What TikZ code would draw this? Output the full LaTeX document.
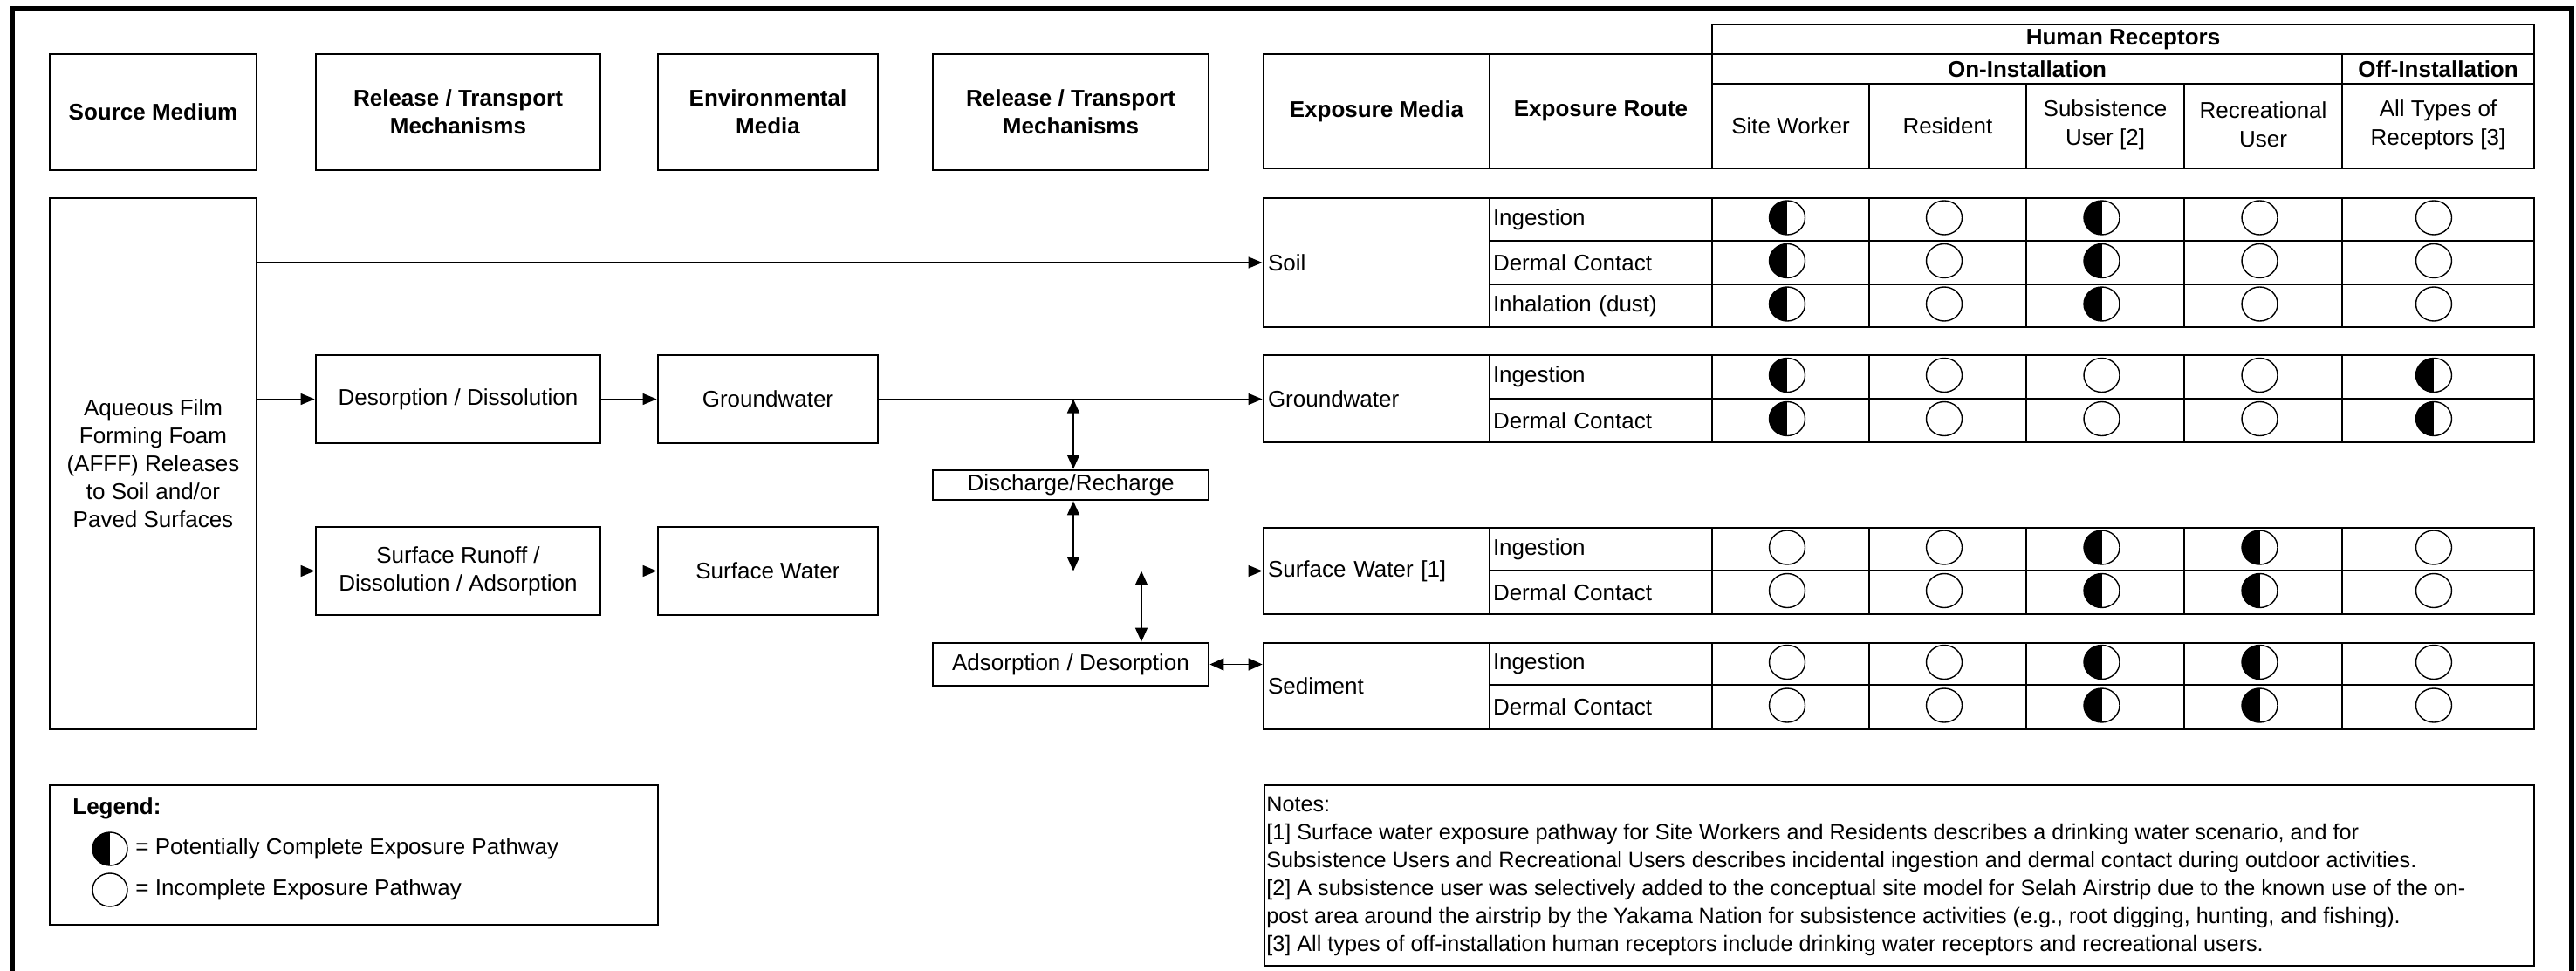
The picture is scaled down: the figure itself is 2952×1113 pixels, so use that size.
\documentclass[tikz,border=0pt]{standalone}
\usepackage{fontspec}
\setmainfont{Liberation Sans}
\usetikzlibrary{arrows.meta,shapes.geometric}
\newcommand\nbk[1]{[#1]}
\tikzset{
  frameline/.style={line width=3.3pt},
  bx/.style={draw, line width=1.4pt, align=center, inner sep=0pt},
  hd/.style={bx, font=\bfseries\fontsize{13}{16}\selectfont},
  gcell/.style={draw, line width=1.4pt, inner sep=0pt},
  colt/.style={align=center, inner sep=0pt, font=\fontsize{13}{16.5}\selectfont},
  mcell/.style={draw, line width=1.4pt, minimum width=129.5pt, inner xsep=2.5pt, text width=124.5pt, align=left},
  rcell/.style={draw, line width=1.4pt, minimum width=127.5pt, inner xsep=2pt, text width=123.5pt, align=left},
  symE/.style={ellipse, draw, line width=0.7pt, minimum width=20.5pt, minimum height=19.5pt, inner sep=0pt},
  symH/.style={symE, path picture={\fill (path picture bounding box.south west) rectangle (path picture bounding box.north);}},
  conn/.style={line width=0.75pt, -{Triangle[length=8pt,width=6.5pt]}},
  dconn/.style={line width=0.85pt, {Triangle[length=8pt,width=7pt]}-{Triangle[length=8pt,width=7pt]}},
}
\newcommand\drow[9]{%
  \node[rcell, minimum height=#3] (#1r) at (1834.5,#2) {#4};
  \node[gcell, minimum width=90pt, minimum height=#3] (#1c1) at (2052,#2) {};
  \node[gcell, minimum width=90pt, minimum height=#3] (#1c2) at (2232,#2) {};
  \node[gcell, minimum width=90.5pt, minimum height=#3] (#1c3) at (2412.5,#2) {};
  \node[gcell, minimum width=90.5pt, minimum height=#3] (#1c4) at (2593.5,#2) {};
  \node[gcell, minimum width=110pt, minimum height=#3] (#1c5) at (2794,#2) {};
  \node[#5] (#1s1) at ([xshift=-2pt,yshift=1pt]#1c1.center) {};
  \node[#6] (#1s2) at ([xshift=-2pt,yshift=1pt]#1c2.center) {};
  \node[#7] (#1s3) at ([xshift=-2pt,yshift=1pt]#1c3.center) {};
  \node[#8] (#1s4) at ([xshift=-2pt,yshift=1pt]#1c4.center) {};
  \node[#9] (#1s5) at ([xshift=-2.5pt,yshift=1pt]#1c5.center) {};
}
\begin{document}
\begin{tikzpicture}[x=0.5pt,y=-0.5pt,font=\fontsize{13}{16}\selectfont]
\useasboundingbox (0,0) rectangle (2952,1113);
\draw[frameline] (14,1130) -- (14,10) -- (2947,10) -- (2947,1130);

% header boxes
\node[hd, minimum width=118.5pt, minimum height=66.5pt] (hsrc) at (175.5,128.5) {Source Medium};
\node[hd, minimum width=163pt, minimum height=66.5pt] (hrt1) at (525,128.5) {Release / Transport\\Mechanisms};
\node[hd, minimum width=126pt, minimum height=66.5pt] (henv) at (880,128.5) {Environmental\\Media};
\node[hd, minimum width=158pt, minimum height=66.5pt] (hrt2) at (1227,128.5) {Release / Transport\\Mechanisms};
\node[hd, minimum width=129.5pt, minimum height=65.5pt] (hem) at (1577.5,127.5) {Exposure Media};
\node[hd, minimum width=127.5pt, minimum height=65.5pt] (her) at (1834.5,127.5) {Exposure Route};
\node[hd, minimum width=471pt, minimum height=17pt] (hhr) at (2433,45) {Human Receptors};
\node[hd, minimum width=361pt, minimum height=17pt] (hon) at (2323,79) {On-Installation};
\node[hd, minimum width=110pt, minimum height=17pt] (hoff) at (2794,79) {Off-Installation};
\node[gcell, minimum width=90pt, minimum height=48.5pt] (hc1) at (2052,144.5) {};
\node[gcell, minimum width=90pt, minimum height=48.5pt] (hc2) at (2232,144.5) {};
\node[gcell, minimum width=90.5pt, minimum height=48.5pt] (hc3) at (2412.5,144.5) {};
\node[gcell, minimum width=90.5pt, minimum height=48.5pt] (hc4) at (2593.5,144.5) {};
\node[gcell, minimum width=110pt, minimum height=48.5pt] (hc5) at (2794,144.5) {};
\node[colt] (hc1t) at (2052,144) {Site Worker};
\node[colt] (hc2t) at (2232,144) {Resident};
\node[colt] (hc3t) at (2412.5,143) {Subsistence\\User [2]};
\node[colt] (hc4t) at (2593.5,143) {Recreational\\User};
\node[colt] (hc5t) at (2794,143) {All Types of\\Receptors [3]};

% exposure media cells
\node[mcell, minimum height=74pt] (msoil) at (1577.5,301) {Soil};
\node[mcell, minimum height=50pt] (mgw) at (1577.5,457) {Groundwater};
\node[mcell, minimum height=49.5pt] (msw) at (1577.5,654.5) {Surface Water [1]};
\node[mcell, minimum height=49.5pt] (msed) at (1577.5,786.5) {Sediment};

% rows
\drow{sa}{251.5}{24.5pt}{Ingestion}{symH}{symE}{symH}{symE}{symE}
\drow{sb}{301}{25pt}{Dermal Contact}{symH}{symE}{symH}{symE}{symE}
\drow{sc}{350.5}{24.5pt}{Inhalation (dust)}{symH}{symE}{symH}{symE}{symE}
\drow{ga}{432}{25pt}{Ingestion}{symH}{symE}{symE}{symE}{symH}
\drow{gb}{482}{25pt}{Dermal Contact}{symH}{symE}{symE}{symE}{symH}
\drow{wa}{629.5}{24.5pt}{Ingestion}{symE}{symE}{symH}{symH}{symE}
\drow{wb}{679}{25pt}{Dermal Contact}{symE}{symE}{symH}{symH}{symE}
\drow{da}{761}{24pt}{Ingestion}{symE}{symE}{symH}{symH}{symE}
\drow{db}{810.5}{25.5pt}{Dermal Contact}{symE}{symE}{symH}{symH}{symE}

% flow boxes
\node[bx, minimum width=118.5pt, minimum height=304.5pt] (afff) at (175.5,531.5) {Aqueous Film\\Forming Foam\\(AFFF) Releases\\to Soil and/or\\Paved Surfaces};
\node[bx, minimum width=163pt, minimum height=50.5pt] (desorp) at (525,457.5) {Desorption / Dissolution};
\node[bx, minimum width=126pt, minimum height=50.5pt] (gw) at (880,457.5) {Groundwater};
\node[bx, minimum width=163pt, minimum height=50.5pt] (runoff) at (525,654.5) {Surface Runoff /\\Dissolution / Adsorption};
\node[bx, minimum width=126pt, minimum height=50.5pt] (sw) at (880,654.5) {Surface Water};
\node[bx, minimum width=158pt, minimum height=17pt] (dis) at (1227,556) {Discharge/Recharge};
\node[bx, minimum width=158pt, minimum height=24.5pt] (ads) at (1227,761.5) {Adsorption / Desorption};

% connectors
\draw[conn] (afff.east |- msoil.west) -- (msoil.west);
\draw[conn] (afff.east |- desorp.west) -- (desorp.west);
\draw[conn] (desorp.east) -- (gw.west);
\draw[conn] (gw.east) -- (gw.east -| mgw.west);
\draw[conn] (afff.east |- runoff.west) -- (runoff.west);
\draw[conn] (runoff.east) -- (sw.west);
\draw[conn] (sw.east) -- (sw.east -| msw.west);
\draw[dconn] ([xshift=1.5pt]dis.north) -- ([xshift=1.5pt]dis.north |- gw.east);
\draw[dconn] ([xshift=1.5pt]dis.south) -- ([xshift=1.5pt]dis.south |- sw.east);
\draw[dconn] ([xshift=40.5pt]ads.north) -- ([xshift=40.5pt]ads.north |- sw.east);
\draw[dconn] (ads.east) -- (ads.east -| msed.west);

% legend
\node[bx, minimum width=348.5pt, minimum height=80pt] (legend) at (405.5,980) {};
\node[anchor=west, inner sep=0pt, font=\bfseries\fontsize{13}{16}\selectfont] (legt) at (83,927) {Legend:};
\node[symH, minimum width=20pt, minimum height=19pt] (legh) at (126,973) {};
\node[anchor=west, inner sep=0pt] (leght) at (155,973) {= Potentially Complete Exposure Pathway};
\node[symE, minimum width=20pt, minimum height=19pt] (lege) at (126,1020) {};
\node[anchor=west, inner sep=0pt] (legetx) at (155,1020) {= Incomplete Exposure Pathway};

% notes
\node[bx, minimum width=727.5pt, minimum height=103.5pt] (notes) at (2176.5,1003.5) {};
\node[anchor=north west, inner sep=0pt, align=left, font=\fontsize{12.6}{16}\selectfont] (notest) at (1451,913) {Notes:\\
\nbk{1} Surface water exposure pathway for Site Workers and Residents describes a drinking water scenario, and for\\
Subsistence Users and Recreational Users describes incidental ingestion and dermal contact during outdoor activities.\\
\nbk{2} A subsistence user was selectively added to the conceptual site model for Selah Airstrip due to the known use of the on-\\
post area around the airstrip by the Yakama Nation for subsistence activities (e.g., root digging, hunting, and fishing).\\
\nbk{3} All types of off-installation human receptors include drinking water receptors and recreational users.};
\end{tikzpicture}
\end{document}
